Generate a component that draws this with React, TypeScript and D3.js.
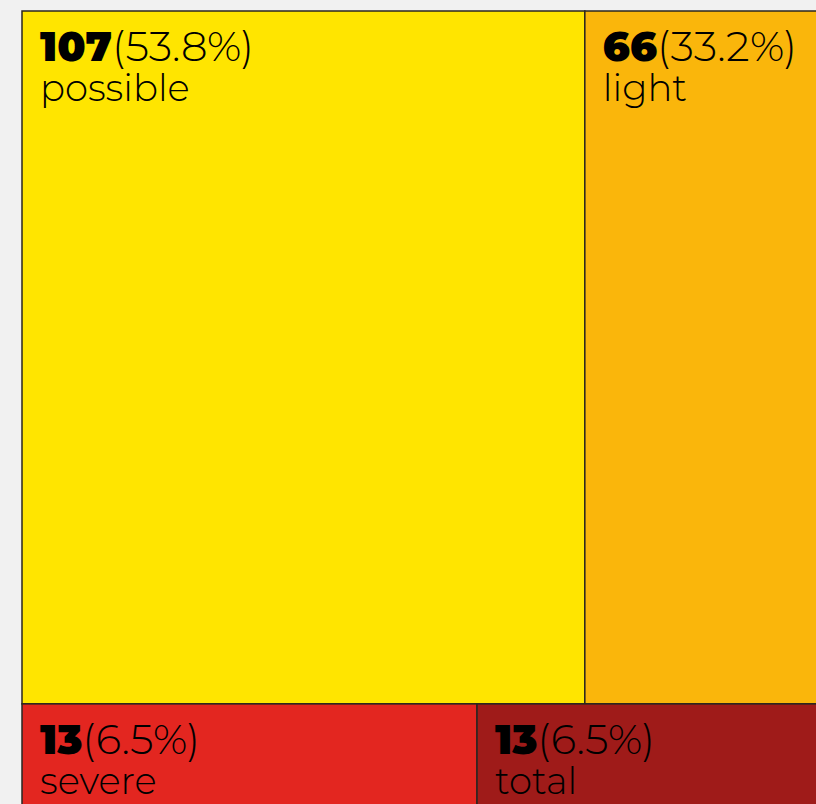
import React, { useEffect } from "react";
import * as d3 from "d3";

const categories = ["possible", "light", "severe", "total"];
const counts = [107, 66, 13, 13];
const colors = ["#FFE500", "#FAB60B", "#E32620", "#9F1B19"];
const rows = [["possible", "light"], ["severe", "total"]];

const WIDTH = 816;
const HEIGHT = 804;
const OFFSET_X = 22;
const OFFSET_Y = 11;
const TREE_W = 910;
const TREE_H = 797;

export default function App() {
  useEffect(() => {
    document.body.style.margin = "0";
    document.body.style.background = "#f1f1f1";
  }, []);

  const total = d3.sum(counts);
  const data = {
    name: "root",
    children: rows.map((r, i) => ({
      name: "row" + i,
      children: r.map((c) => {
        const idx = categories.indexOf(c);
        return { name: c, value: counts[idx], color: colors[idx] };
      }),
    })),
  };

  const root = d3.hierarchy<any>(data).sum((d: any) => d.value || 0);

  d3
    .treemap<any>()
    .size([TREE_W, TREE_H])
    .tile((node: any, x0: number, y0: number, x1: number, y1: number) => {
      if (node.depth === 0) d3.treemapSlice(node, x0, y0, x1, y1);
      else d3.treemapDice(node, x0, y0, x1, y1);
    })(root);

  const leaves = root.leaves() as any[];
  const fontFamily = "Montserrat, Lato, 'Open Sans', sans-serif";

  return (
    <svg
      width={WIDTH}
      height={HEIGHT}
      style={{ display: "block", position: "absolute", left: 0, top: 0, overflow: "hidden" }}
    >
      <rect x={0} y={0} width={WIDTH} height={HEIGHT} fill="#f1f1f1" />
      <g transform={`translate(${OFFSET_X},${OFFSET_Y})`}>
        {leaves.map((leaf) => (
          <rect
            key={leaf.data.name}
            x={leaf.x0}
            y={leaf.y0}
            width={leaf.x1 - leaf.x0}
            height={leaf.y1 - leaf.y0}
            fill={leaf.data.color}
            stroke="#2a2620"
            strokeWidth={1.5}
          />
        ))}
        {leaves.map((leaf) => (
          <g key={leaf.data.name + "-t"} transform={`translate(${leaf.x0 + 18},${leaf.y0 + 50})`}>
            <text x={0} y={0} fontFamily={fontFamily} fill="#000">
              <tspan fontWeight={900} fontSize={41}>{leaf.data.value}</tspan>
              <tspan fontWeight={300} fontSize={42}>({((leaf.data.value / total) * 100).toFixed(1)}%)</tspan>
            </text>
            <text x={0} y={40} fontFamily={fontFamily} fontSize={37} fontWeight={300} fill="#000">
              {leaf.data.name}
            </text>
          </g>
        ))}
      </g>
    </svg>
  );
}
